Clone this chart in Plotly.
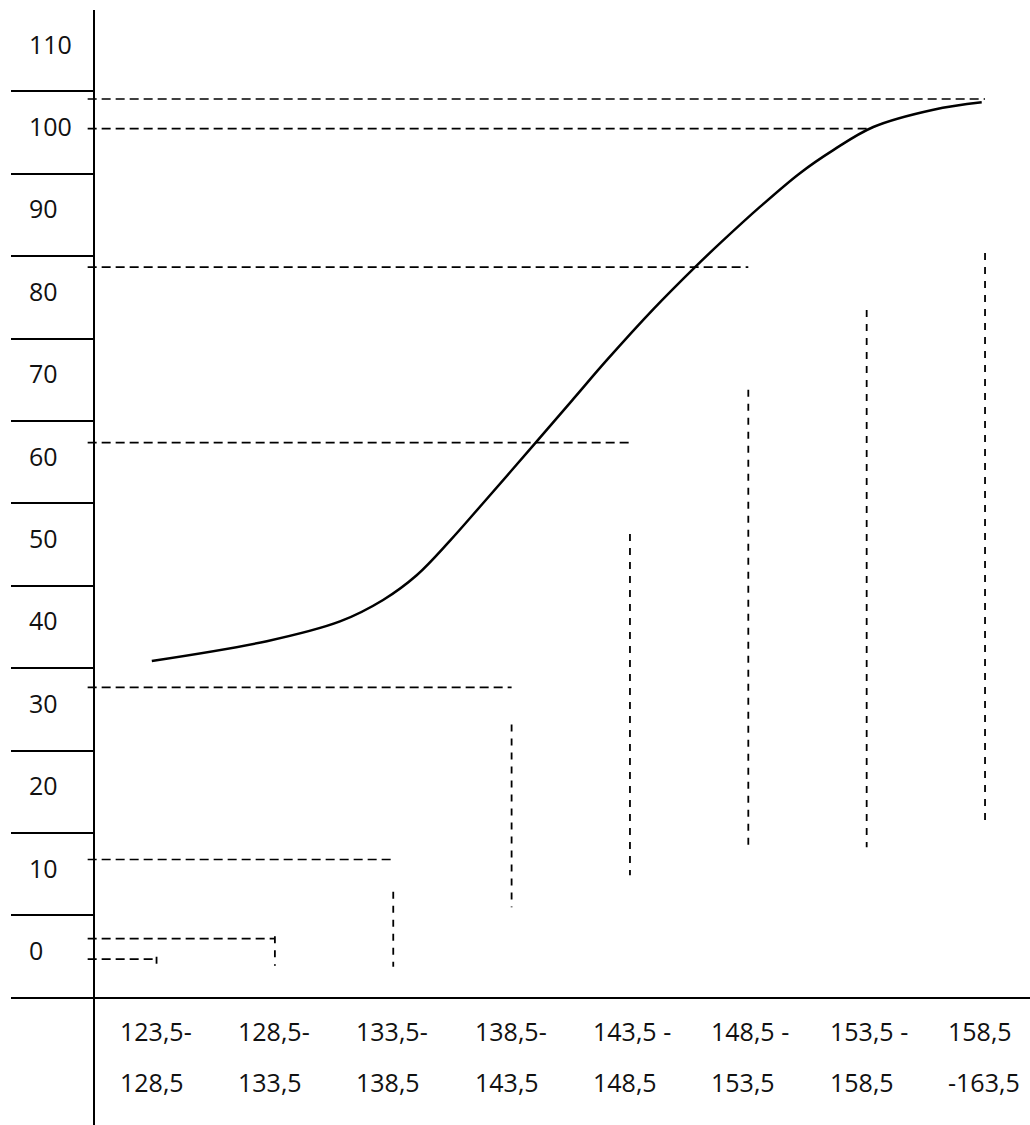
import plotly.graph_objects as go

# ---------------- data ----------------
y_label_values = [0, 10, 20, 30, 40, 50, 60, 70, 80, 90, 100, 110]

upper_boundaries = [128.5, 133.5, 138.5, 143.5, 148.5, 153.5, 158.5, 163.5]
x_label_top = ["123,5-", "128,5-", "133,5-", "138,5-", "143,5 -", "148,5 -", "153,5 -", "158,5"]
x_label_bottom = ["128,5", "133,5", "138,5", "143,5", "148,5", "153,5", "158,5", "-163,5"]

# horizontal dashed guide levels (each ends at the matching upper boundary)
guide_levels = [-1.0, 1.5, 11.1, 32.0, 61.7, 83.0, 99.8, 103.4]

# vertical dashed drops at each upper boundary
drop_top = [-0.7, 1.8, 7.2, 27.5, 50.6, 68.1, 77.8, 84.7]
drop_bottom = [-1.7, -1.8, -1.9, 5.3, 9.2, 12.7, 12.6, 15.9]

# ogive curve
curve_x = [128.30, 133.16, 136.25, 138.07, 139.49, 140.90, 142.31, 144.49, 146.11,
           147.52, 149.49, 151.25, 152.31, 153.99, 155.68, 157.09, 158.78, 161.32, 163.36]
curve_y = [35.2, 37.6, 40.0, 42.6, 45.6, 49.8, 54.4, 61.6, 67.0,
           71.7, 77.9, 83.0, 85.9, 90.3, 94.4, 97.2, 100.0, 102.1, 103.0]

# ---------------- layout constants ----------------
W, H = 1030, 1125
ML, MT = 86, 10
X_RANGE = [125.52, 165.40]
Y_RANGE = [-21.12, 114.20]
CELL_OFFSET = 5.67          # label sits inside a cell; cell borders are offset from label values
FONT = dict(family="Open Sans", size=25, color="#111111")
plot_w = W - ML
plot_h = H - MT

fig = go.Figure()

# horizontal dashed guides
hx, hy = [], []
for lvl, ub in zip(guide_levels, upper_boundaries):
    hx += [X_RANGE[0] + 0.07, ub, None]
    hy += [lvl, lvl, None]
fig.add_trace(go.Scatter(x=hx, y=hy, mode="lines",
                         line=dict(color="black", width=1.7, dash="9px,5px"),
                         hoverinfo="skip"))

# vertical dashed drops
vx, vy = [], []
for ub, t, b in zip(upper_boundaries, drop_top, drop_bottom):
    vx += [ub, ub, None]
    vy += [t, b, None]
fig.add_trace(go.Scatter(x=vx, y=vy, mode="lines",
                         line=dict(color="black", width=1.8, dash="7px,7px"),
                         hoverinfo="skip"))

# curve
fig.add_trace(go.Scatter(x=curve_x, y=curve_y, mode="lines",
                         line=dict(color="black", width=2.5, shape="spline", smoothing=1.0),
                         hoverinfo="skip"))

annotations = []
for v in y_label_values:
    annotations.append(dict(x=(27 - ML) / plot_w, xref="paper", xanchor="left",
                            y=v, yref="y", yanchor="middle", yshift=1,
                            text=str(v), showarrow=False, font=FONT))
for ub, t1, t2 in zip(upper_boundaries, x_label_top, x_label_bottom):
    annotations.append(dict(x=ub, xref="x", xanchor="left", xshift=-39,
                            y=(H - 1031) / plot_h, yref="paper", yanchor="middle",
                            text=t1, showarrow=False, font=FONT))
    annotations.append(dict(x=ub, xref="x", xanchor="left", xshift=-39,
                            y=(H - 1082) / plot_h, yref="paper", yanchor="middle",
                            text=t2, showarrow=False, font=FONT))

fig.update_layout(
    width=W, height=H,
    margin=dict(l=ML, r=0, t=MT, b=0, pad=0),
    paper_bgcolor="white", plot_bgcolor="white",
    showlegend=False,
    annotations=annotations,
    xaxis=dict(range=X_RANGE, anchor="free", position=(H - 997.7) / plot_h,
               showline=True, linecolor="black", linewidth=2.2,
               showgrid=False, zeroline=False, ticks="", showticklabels=False),
    yaxis=dict(range=Y_RANGE, anchor="free", position=(94 - ML) / plot_w,
               showline=True, linecolor="black", linewidth=2.2,
               showgrid=False, zeroline=False,
               ticks="outside", tickvals=[v - CELL_OFFSET for v in y_label_values],
               ticklen=82, tickwidth=2.2, tickcolor="black", showticklabels=False),
)

fig.write_html("out.html",
               config={"displayModeBar": False},
               post_script="document.body.style.margin='0';document.body.style.overflow='hidden';")
